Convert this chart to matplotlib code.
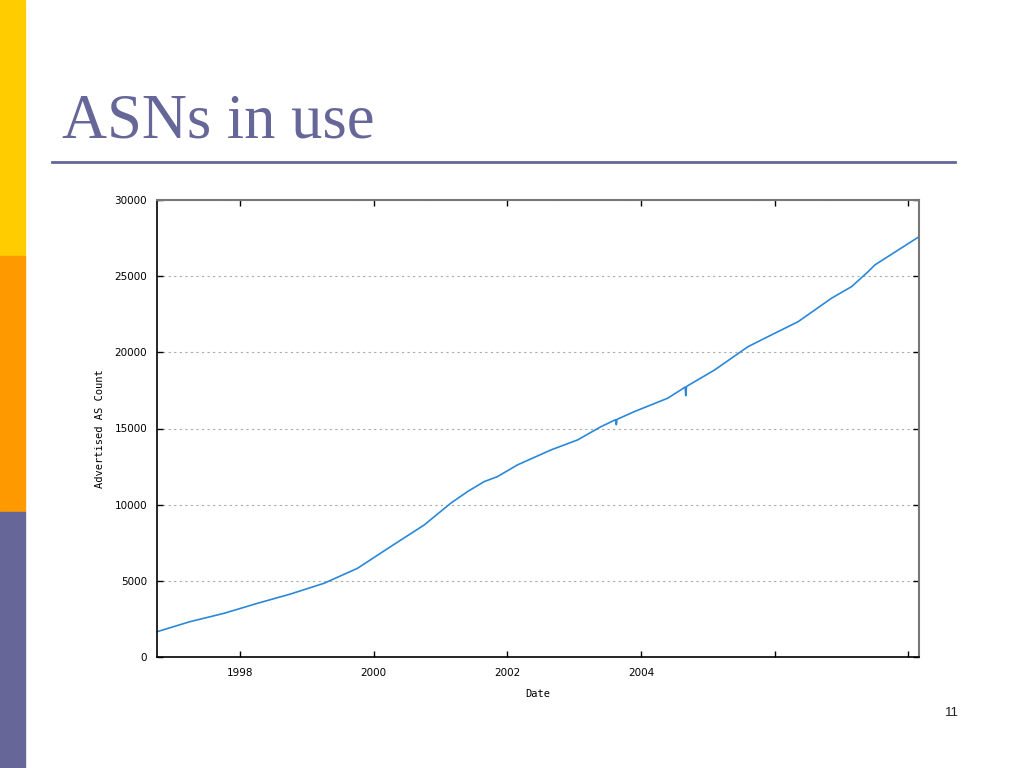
import numpy as np
import matplotlib
matplotlib.use("Agg")
import matplotlib.pyplot as plt
from matplotlib.patches import Rectangle
from matplotlib.lines import Line2D

# advertised AS count (decimal year, count)
years = [1996.755, 1997.25, 1997.76, 1998.255, 1998.75, 1999.255, 1999.755,
         2000.25, 2000.755, 2001.15, 2001.40, 2001.65, 2001.85, 2002.15,
         2002.65, 2003.05, 2003.40, 2003.62, 2003.63, 2003.64, 2003.90,
         2004.40, 2004.66, 2004.67, 2004.68, 2005.10, 2005.60, 2006.00,
         2006.35, 2006.85, 2007.15, 2007.40, 2007.50, 2007.85, 2008.16]
counts = [1660, 2320, 2870, 3520, 4130, 4840, 5820,
          7240, 8670, 10090, 10850, 11510, 11840, 12610,
          13590, 14250, 15120, 15580, 15250, 15600, 16110,
          16990, 17720, 17150, 17760, 18840, 20370, 21250,
          22010, 23550, 24310, 25300, 25740, 26720, 27590]

xticks = [1998, 2000, 2002, 2004, 2006, 2008]
xticklabels = ["1998", "2000", "2002", "2004", "", ""]
yticks = [0, 5000, 10000, 15000, 20000, 25000, 30000]

purple = "#666699"

fig = plt.figure(figsize=(10.24, 7.68), dpi=100)

# slide decoration: left colour bar
fig.patches.append(Rectangle((0, 2/3), 25/1024, 1/3, transform=fig.transFigure,
                             color="#FFCC00", zorder=0))
fig.patches.append(Rectangle((0, 1/3), 25/1024, 1/3, transform=fig.transFigure,
                             color="#FF9900", zorder=0))
fig.patches.append(Rectangle((0, 0), 25/1024, 1/3, transform=fig.transFigure,
                             color=purple, zorder=0))

fig.text(62/1024, 1 - 138/768, "ASNs in use", family="Liberation Serif",
         fontsize=45, color=purple, ha="left", va="baseline")
fig.lines.append(Line2D([52/1024, 955/1024], [1 - 162/768, 1 - 162/768],
                        transform=fig.transFigure, color=purple, lw=2))
fig.text(952/1024, 1 - 713/768, "11", family="Liberation Sans",
         fontsize=9.5, color="#222222", ha="center", va="center")

ax = fig.add_axes([157/1024, 1 - 657/768, 762/1024, 457/768])
ax.plot(years, counts, color="#2b88d8", lw=1.2)

ax.set_xlim(1996.755, 2008.16)
ax.set_ylim(0, 30000)
ax.set_xticks(xticks)
ax.set_xticklabels(xticklabels)
ax.set_yticks(yticks)
ax.set_yticklabels([str(v) for v in yticks])

ax.grid(axis="y", color="#aaaaaa", linestyle=(0, (2, 3)), lw=0.8)
ax.tick_params(direction="in", length=4, width=1, labelsize=7.5,
               top=True, right=True, colors="black")
ax.tick_params(axis="y", pad=7)
ax.tick_params(axis="x", pad=8)

for s in ["left", "bottom"]:
    ax.spines[s].set_color("black")
    ax.spines[s].set_linewidth(1.2)
for s in ["top", "right"]:
    ax.spines[s].set_color("#777777")
    ax.spines[s].set_linewidth(1.5)

ax.set_xlabel("Date", family="DejaVu Sans Mono", fontsize=7.5, labelpad=8)
ax.set_ylabel("Advertised AS Count", family="DejaVu Sans Mono", fontsize=7.5,
              labelpad=7)

fig.savefig("out.png", dpi=100)
